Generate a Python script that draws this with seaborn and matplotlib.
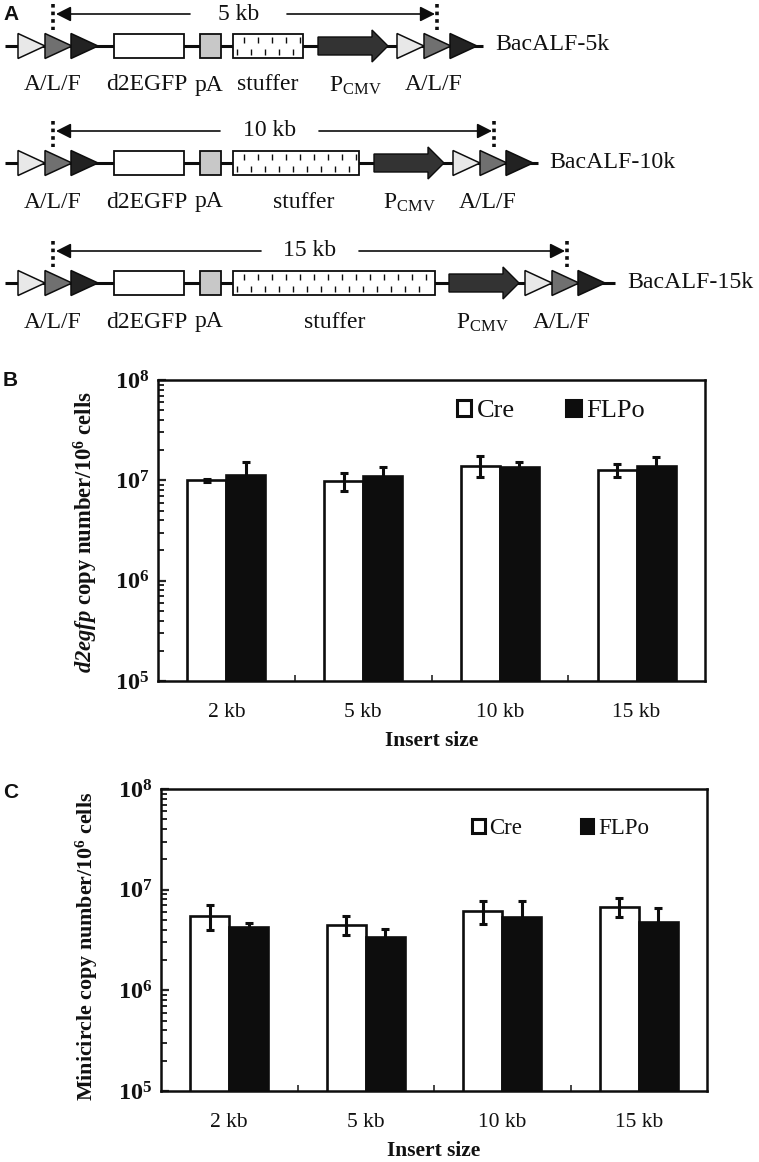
import matplotlib
matplotlib.use("Agg")
import matplotlib.pyplot as plt
from matplotlib.patches import Patch
from matplotlib.ticker import LogLocator, NullFormatter
import seaborn as sns
import pandas as pd
import numpy as np

# bar data
insert_sizes = ["2 kb", "5 kb", "10 kb", "15 kb"]
series_names = ["Cre", "FLPo"]

egfp_cre = [1.00e7, 0.98e7, 1.40e7, 1.27e7]
egfp_flpo = [1.13e7, 1.10e7, 1.35e7, 1.38e7]
egfp_cre_err = [0.03e7, 0.19e7, 0.33e7, 0.20e7]
egfp_flpo_err = [0.38e7, 0.25e7, 0.17e7, 0.32e7]

mini_cre = [5.5e6, 4.5e6, 6.2e6, 6.8e6]
mini_flpo = [4.3e6, 3.4e6, 5.3e6, 4.8e6]
mini_cre_err = [1.55e6, 0.95e6, 1.6e6, 1.5e6]
mini_flpo_err = [0.4e6, 0.7e6, 2.4e6, 1.75e6]

ytick_values = [1e5, 1e6, 1e7, 1e8]
ytick_labels = [r"$\mathbf{10^{5}}$", r"$\mathbf{10^{6}}$", r"$\mathbf{10^{7}}$", r"$\mathbf{10^{8}}$"]

# construct diagrams (panel A), one entry per row, in image pixels
construct_names = ["BacALF-5k", "BacALF-10k", "BacALF-15k"]
size_labels = ["5 kb", "10 kb", "15 kb"]
row_y = [46, 163, 283]
stuffer_end = [303, 359, 435]
promoter_start = [318, 374, 449]
second_sites = [397, 453, 525]
line_end = [483, 538, 615]
name_x = [495, 549, 627]
dots_right = [437, 494, 567]
gap_left = [190, 220, 261]
gap_right = [287, 319, 359]
stuffer_label_x = [268, 304, 335]
pcmv_label_x = [355, 409, 482]
alf_label_x = [434, 488, 562]

W, H = 759, 1162
BLACK = "#0d0d0d"

sns.set_theme(style="white")
plt.rcParams["font.family"] = ["Liberation Serif", "DejaVu Serif"]
plt.rcParams["mathtext.fontset"] = "custom"
plt.rcParams["mathtext.rm"] = "Liberation Serif"
plt.rcParams["mathtext.it"] = "Liberation Serif:italic"
plt.rcParams["mathtext.bf"] = "Liberation Serif:bold"
plt.rcParams["mathtext.bfit"] = "Liberation Serif:italic:bold"

fig = plt.figure(figsize=(W / 100, H / 100), dpi=100)


def triangle(ax, x, y, color):
    ax.fill([x, x, x + 27], [y - 12.5, y + 12.5, y], facecolor=color, edgecolor=BLACK,
            linewidth=1.1, zorder=3)


def site_group(ax, x, y):
    triangle(ax, x, y, "#e8e8e8")
    triangle(ax, x + 27, y, "#707070")
    triangle(ax, x + 53, y, "#222222")


# -----------------------------------------------------------------------
# Panel A: the three constructs
# -----------------------------------------------------------------------
top = fig.add_axes([0, 0, 1, 1], zorder=5)
top.set_xlim(0, W)
top.set_ylim(H, 0)
top.axis("off")
top.patch.set_alpha(0)

for i, y in enumerate(row_y):
    top.plot([5, line_end[i]], [y, y], color=BLACK, lw=2.2, zorder=1, solid_capstyle="butt")
    site_group(top, 18, y)
    site_group(top, second_sites[i], y)

    top.fill([114, 184, 184, 114], [y - 12, y - 12, y + 12, y + 12], facecolor="white",
             edgecolor=BLACK, lw=1.3, zorder=3)
    top.fill([200, 221, 221, 200], [y - 12, y - 12, y + 12, y + 12], facecolor="#c8c8c8",
             edgecolor=BLACK, lw=1.3, zorder=3)

    # stuffer box with its two staggered rows of dashes
    end = stuffer_end[i]
    top.fill([233, end, end, 233], [y - 12, y - 12, y + 12, y + 12], facecolor="white",
             edgecolor=BLACK, lw=1.3, zorder=3)
    top.vlines(np.arange(244, end - 2, 14), y - 9, y - 3, color=BLACK, lw=1.0, zorder=4)
    top.vlines(np.arange(237, end - 2, 14), y + 3, y + 9, color=BLACK, lw=1.0, zorder=4)

    # promoter arrow
    px = promoter_start[i]
    top.fill([px, px + 54, px + 54, px + 70, px + 54, px + 54, px],
             [y - 9, y - 9, y - 16, y, y + 16, y + 9, y + 9],
             facecolor="#333333", edgecolor=BLACK, lw=1.0, zorder=3)

    # size bracket
    bracket_y = y - 32
    for dx in [53, dots_right[i]]:
        top.plot([dx, dx], [y - 42, y - 16], color=BLACK, lw=2.6, ls=(0, (1.0, 1.1)), zorder=2)
    top.annotate("", xy=(56, bracket_y), xytext=(gap_left[i], bracket_y),
                 arrowprops=dict(arrowstyle="-|>,head_length=0.75,head_width=0.38", color=BLACK,
                                 lw=1.2, shrinkA=0, shrinkB=0))
    top.annotate("", xy=(dots_right[i] - 2, bracket_y), xytext=(gap_right[i], bracket_y),
                 arrowprops=dict(arrowstyle="-|>,head_length=0.75,head_width=0.38", color=BLACK,
                                 lw=1.2, shrinkA=0, shrinkB=0))
    top.text((gap_left[i] + gap_right[i]) / 2, bracket_y, size_labels[i], ha="center",
             va="center", fontsize=17, color="#111111")

    # labels below the row
    ly = y + 39
    for lx, s in [(53, "A/L/F"), (147, "d2EGFP"), (209, "pA"), (stuffer_label_x[i], "stuffer"),
                  (alf_label_x[i], "A/L/F")]:
        top.text(lx, ly, s, ha="center", va="center", fontsize=17, color="#111111")
    top.text(pcmv_label_x[i], ly + 1, r"P$_{\mathrm{CMV}}$", ha="center", va="center",
             fontsize=17, color="#111111")
    top.text(name_x[i], y - 1, construct_names[i], ha="left", va="center", fontsize=17.2,
             color="#111111")

for letter, ly in zip("ABC", [14, 381, 793]):
    top.text(3, ly, letter, ha="left", va="center", fontsize=15, fontweight="bold",
             family="Liberation Sans", color="#111111")


# -----------------------------------------------------------------------
# Panels B and C: bar charts
# -----------------------------------------------------------------------
def bar_panel(left, right, ytop, ybottom, cre, flpo, cre_err, flpo_err):
    ax = fig.add_axes([left / W, 1 - ybottom / H, (right - left) / W, (ybottom - ytop) / H])
    df = pd.DataFrame({
        "size": insert_sizes * 2,
        "copies": cre + flpo,
        "enzyme": [series_names[0]] * 4 + [series_names[1]] * 4,
    })
    sns.barplot(data=df, x="size", y="copies", hue="enzyme", order=insert_sizes,
                hue_order=series_names, palette=["white", BLACK], width=0.57, gap=0,
                edgecolor=BLACK, linewidth=1.9, saturation=1, errorbar=None,
                legend=False, ax=ax)
    for bars, vals, errs in zip(ax.containers, [cre, flpo], [cre_err, flpo_err]):
        centers = [b.get_x() + b.get_width() / 2 for b in bars]
        ax.errorbar(centers, vals, yerr=errs, fmt="none", ecolor=BLACK, elinewidth=2.2,
                    capsize=2.8, capthick=2.2, zorder=6)

    ax.set_yscale("log")
    ax.set_xlim(-0.5, 3.5)
    ax.set_ylim(1e5, 1e8)
    ax.set_yticks(ytick_values)
    ax.set_yticklabels(ytick_labels, fontsize=17.5, color="#111111")
    ax.yaxis.set_minor_locator(LogLocator(base=10, subs=np.arange(2, 10), numticks=10))
    ax.yaxis.set_minor_formatter(NullFormatter())
    ax.tick_params(axis="y", which="major", direction="in", length=6, width=1.6, left=True, pad=6)
    ax.tick_params(axis="y", which="minor", direction="in", length=4, width=1.4, left=True)
    ax.set_xticks([0.5, 1.5, 2.5], minor=True)
    ax.tick_params(axis="x", which="minor", direction="in", length=4, width=1.2, bottom=True)
    ax.tick_params(axis="x", which="major", length=0, pad=16, labelsize=15.5, labelcolor="#111111")
    for s in ax.spines.values():
        s.set_visible(True)
        s.set_color(BLACK)
        s.set_linewidth(1.8)
    ax.set_xlabel("Insert size", fontsize=15.5, fontweight="bold", labelpad=6, color="#111111")
    return ax


ax_b = bar_panel(158, 705, 380, 681, egfp_cre, egfp_flpo, egfp_cre_err, egfp_flpo_err)
ax_b.set_ylabel(r"$\mathbfit{d2egfp}$ $\mathbf{copy\ number/10^{6}\ cells}$", fontsize=16.3,
                labelpad=11, y=0.495, color="#111111")
ax_b.legend(handles=[Patch(facecolor="white", edgecolor=BLACK, linewidth=2.2, label="Cre"),
                     Patch(facecolor=BLACK, edgecolor=BLACK, linewidth=2.2, label="FLPo")],
            loc="center left", bbox_to_anchor=(0.546, 0.897), frameon=False, ncol=2, fontsize=19,
            handlelength=0.55, handleheight=0.55, handletextpad=0.2, columnspacing=1.95,
            borderpad=0, borderaxespad=0, labelcolor="#111111")

ax_c = bar_panel(161, 707, 789, 1091, mini_cre, mini_flpo, mini_cre_err, mini_flpo_err)
ax_c.set_ylabel(r"$\mathbf{Minicircle\ copy\ number/10^{6}\ cells}$", fontsize=15.8,
                labelpad=13, y=0.48, color="#111111")
ax_c.legend(handles=[Patch(facecolor="white", edgecolor=BLACK, linewidth=2.2, label="Cre"),
                     Patch(facecolor=BLACK, edgecolor=BLACK, linewidth=2.2, label="FLPo")],
            loc="center left", bbox_to_anchor=(0.57, 0.87), frameon=False, ncol=2, fontsize=16.5,
            handlelength=0.55, handleheight=0.55, handletextpad=0.2, columnspacing=2.55,
            borderpad=0, borderaxespad=0, labelcolor="#111111")

fig.savefig("out.png", dpi=100, facecolor="white")
plt.close()
print("Saved: out.png")
